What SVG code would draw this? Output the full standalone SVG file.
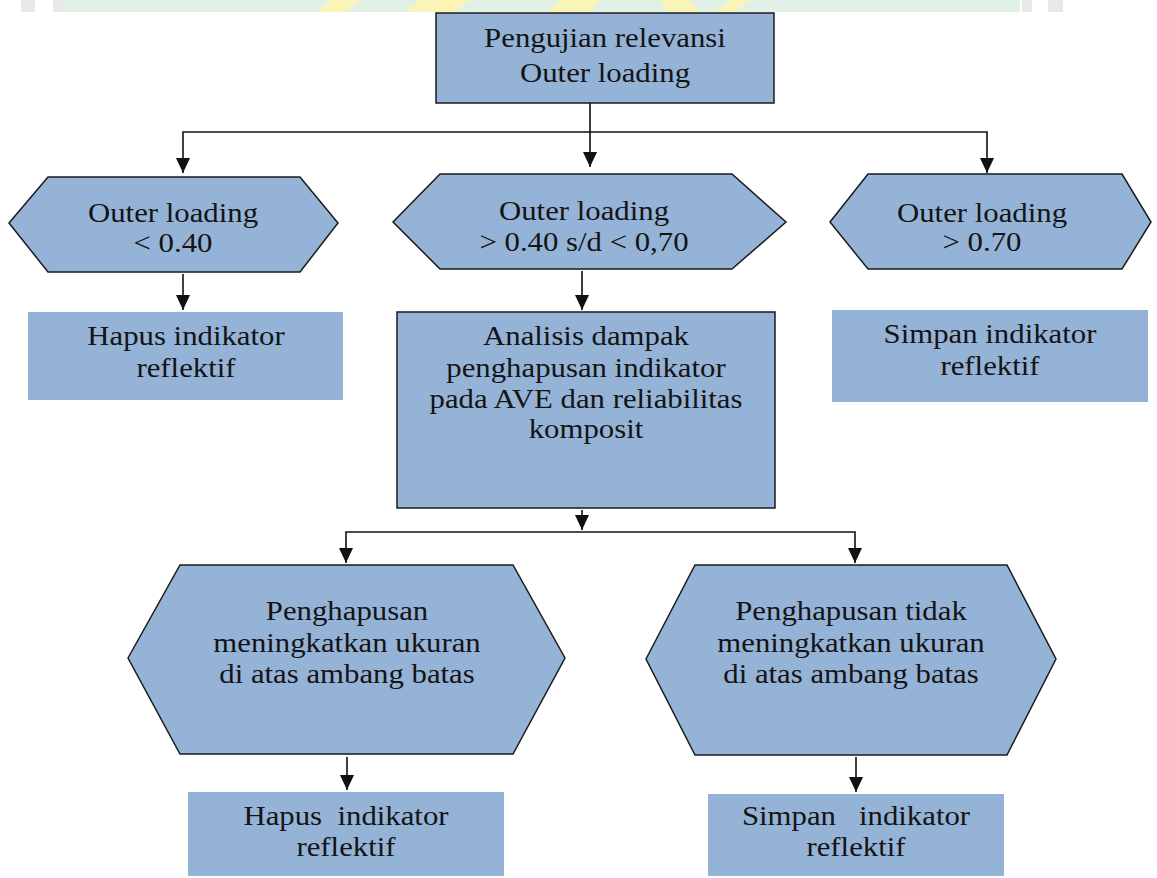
<svg xmlns="http://www.w3.org/2000/svg" width="1157" height="878" viewBox="0 0 1157 878">
<style>
.box{fill:#95b3d7;stroke:#1a1a1a;stroke-width:1.5}
.plain{fill:#95b3d7;stroke:none}
.t{font-family:"Liberation Serif","Times New Roman",serif;font-size:27px;fill:#141414;text-anchor:middle}
.c{fill:none;stroke:#111;stroke-width:1.6}
</style>
<defs>
<marker id="ah" markerUnits="userSpaceOnUse" markerWidth="16" markerHeight="14" viewBox="0 0 16 14" refX="15" refY="7" orient="auto-start-reverse">
<path d="M0,0 L15,7 L0,14 Z" fill="#111"/>
</marker>
</defs>
<g id="watermark" opacity="0.9">
<rect x="63" y="0" width="957" height="12" fill="#dff0e4"/>
<rect x="21" y="0" width="14" height="12" fill="#e6e6e6"/>
<rect x="53" y="0" width="10" height="12" fill="#e6e6e6"/>
<rect x="1022" y="0" width="10" height="12" fill="#e6e6e6"/>
<rect x="1048" y="0" width="15" height="12" fill="#e6e6e6"/>
<polygon points="330,0 360,0 345,12 318,12" fill="#fbf3b0"/>
<polygon points="420,0 470,0 455,12 405,12" fill="#fbf3b0"/>
<polygon points="560,0 600,0 590,12 548,12" fill="#fbf3b0"/>
<polygon points="660,0 690,0 700,12 668,12" fill="#fbf3b0"/>
<polygon points="730,0 750,0 735,12 715,12" fill="#fbf3b0"/>
</g>
<g id="connectors" class="c">
<line x1="590" y1="103" x2="590" y2="167" marker-end="url(#ah)"/>
<polyline points="183,173 183,132 987,132 987,173" marker-start="url(#ah)" marker-end="url(#ah)"/>
<line x1="183" y1="274" x2="183" y2="310" marker-end="url(#ah)"/>
<line x1="582" y1="271" x2="582" y2="310" marker-end="url(#ah)"/>
<line x1="582" y1="510" x2="582" y2="530" marker-end="url(#ah)"/>
<polyline points="346,563 346,532 855,532 855,563" marker-start="url(#ah)" marker-end="url(#ah)"/>
<line x1="347" y1="757" x2="347" y2="790" marker-end="url(#ah)"/>
<line x1="856" y1="757" x2="856" y2="792" marker-end="url(#ah)"/>
</g>
<g id="n-top">
<rect class="box" x="436" y="13" width="338" height="90"/>
<g transform="translate(605,0) scale(1.14,1)"><text class="t" x="0" y="47">Pengujian relevansi</text><text class="t" x="0" y="82">Outer loading</text></g>
</g>
<g id="n-lt040">
<polygon class="box" points="9,223 48,177 300,177 338,223 300,272 48,272"/>
<g transform="translate(173,0) scale(1.14,1)"><text class="t" x="0" y="222">Outer loading</text><text class="t" x="0" y="252">&lt; 0.40</text></g>
</g>
<g id="n-mid">
<polygon class="box" points="393,222 440,174 732,174 786,222 732,269 440,269"/>
<g transform="translate(584,0) scale(1.14,1)"><text class="t" x="0" y="220">Outer loading</text><text class="t" x="0" y="251">&gt; 0.40 s/d &lt; 0,70</text></g>
</g>
<g id="n-gt070">
<polygon class="box" points="830,222 868,174 1122,174 1151,222 1122,269 868,269"/>
<g transform="translate(982,0) scale(1.14,1)"><text class="t" x="0" y="222">Outer loading</text><text class="t" x="0" y="251">&gt; 0.70</text></g>
</g>
<g id="n-hapus1">
<rect class="plain" x="28" y="312" width="315" height="88"/>
<g transform="translate(186,0) scale(1.14,1)"><text class="t" x="0" y="345">Hapus indikator</text><text class="t" x="0" y="377">reflektif</text></g>
</g>
<g id="n-analisis">
<rect class="box" x="397" y="312" width="378" height="196"/>
<g transform="translate(586,0) scale(1.14,1)"><text class="t" x="0" y="345">Analisis dampak</text><text class="t" x="0" y="377">penghapusan indikator</text><text class="t" x="0" y="408">pada AVE dan reliabilitas</text><text class="t" x="0" y="438">komposit</text></g>
</g>
<g id="n-simpan1">
<rect class="plain" x="832" y="310" width="316" height="92"/>
<g transform="translate(990,0) scale(1.14,1)"><text class="t" x="0" y="343">Simpan indikator</text><text class="t" x="0" y="375">reflektif</text></g>
</g>
<g id="n-meningkat">
<polygon class="box" points="128,658 180,565 513,565 565,658 513,754 180,754"/>
<g transform="translate(347,0) scale(1.14,1)"><text class="t" x="0" y="620">Penghapusan</text><text class="t" x="0" y="652">meningkatkan ukuran</text><text class="t" x="0" y="683">di atas ambang batas</text></g>
</g>
<g id="n-tidak">
<polygon class="box" points="646,659 695,565 1007,565 1056,659 1007,755 695,755"/>
<g transform="translate(851,0) scale(1.14,1)"><text class="t" x="0" y="620">Penghapusan tidak</text><text class="t" x="0" y="652">meningkatkan ukuran</text><text class="t" x="0" y="683">di atas ambang batas</text></g>
</g>
<g id="n-hapus2">
<rect class="plain" x="188" y="792" width="316" height="84"/>
<g transform="translate(346,0) scale(1.14,1)"><text class="t" x="0" y="825" xml:space="preserve">Hapus  indikator</text><text class="t" x="0" y="856">reflektif</text></g>
</g>
<g id="n-simpan2">
<rect class="plain" x="708" y="794" width="296" height="82"/>
<g transform="translate(856,0) scale(1.14,1)"><text class="t" x="0" y="825" xml:space="preserve">Simpan   indikator</text><text class="t" x="0" y="856">reflektif</text></g>
</g>
</svg>
